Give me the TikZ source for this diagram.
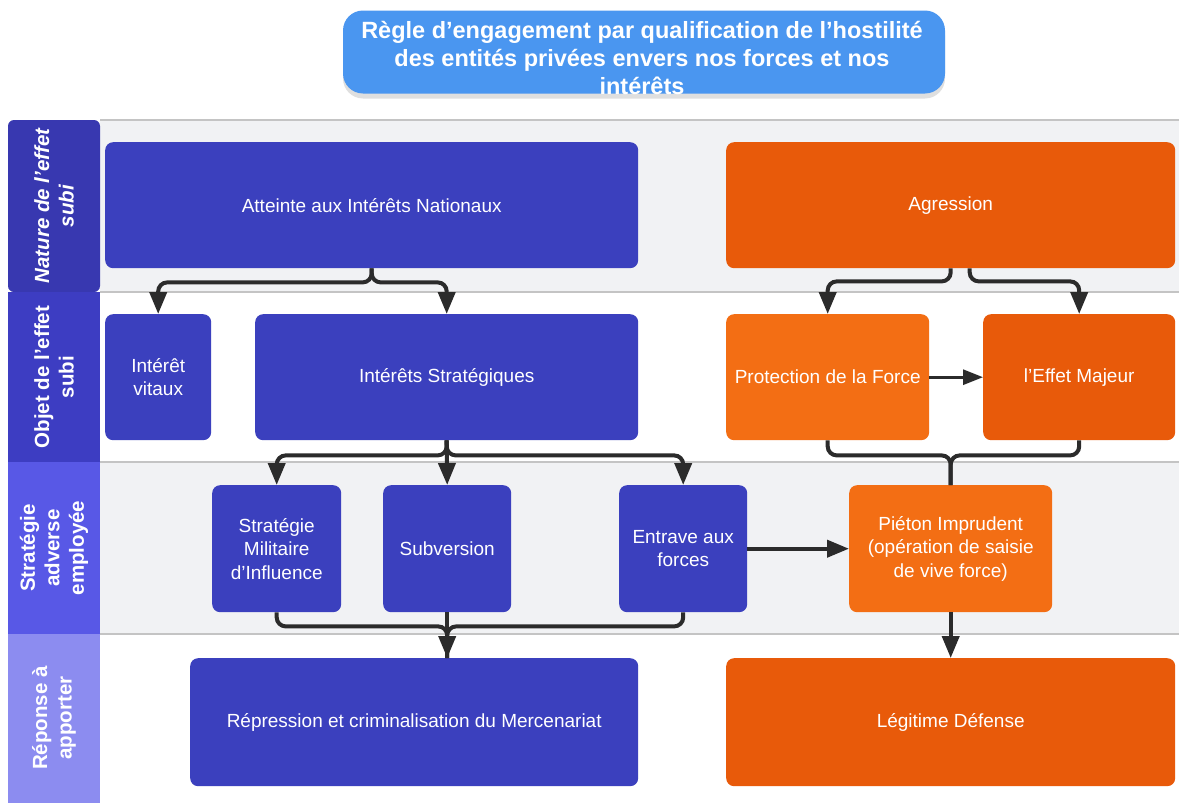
\documentclass[tikz,border=0pt]{standalone}
\usepackage{fontspec}
\setmainfont{Liberation Sans}
\usetikzlibrary{arrows.meta,shadows}
\definecolor{titlebl}{HTML}{4A96F0}
\definecolor{boxbl}{HTML}{3B40BE}
\definecolor{orD}{HTML}{E85A0A}
\definecolor{orL}{HTML}{F36E14}
\definecolor{hdA}{HTML}{3838B0}
\definecolor{hdB}{HTML}{3D3DC2}
\definecolor{hdC}{HTML}{5858E6}
\definecolor{hdD}{HTML}{8C8CF0}
\definecolor{lanegr}{HTML}{F1F2F4}
\definecolor{linegr}{HTML}{C4C4C4}
\definecolor{conn}{HTML}{2B2B2B}
\tikzset{
  boxbase/.style={rounded corners=8pt, anchor=north west, text=white, align=center, inner sep=3pt,
    font=\fontsize{19}{23.5}\selectfont},
  bb/.style={boxbase, fill=boxbl},
  obD/.style={boxbase, fill=orD},
  obL/.style={boxbase, fill=orL},
  hdtext/.style={rotate=90, text=white, align=center, font=\fontsize{20.5}{24.5}\selectfont\bfseries},
  conline/.style={draw=conn, line width=4pt},
  arr/.style={conline, -{Triangle[length=22pt,width=17pt]}},
}
\begin{document}
\begin{tikzpicture}[x=1pt,y=-1pt]
\useasboundingbox (0,0) rectangle (1179,803);
\fill[white] (0,0) rectangle (1179,803);
% lanes
\fill[lanegr] (100,120) rectangle (1179,292);
\fill[lanegr] (100,462) rectangle (1179,634);
\draw[linegr, line width=1.5pt] (100,120) -- (1179,120);
\draw[linegr, line width=1.5pt] (100,292) -- (1179,292);
\draw[linegr, line width=1.5pt] (100,462) -- (1179,462);
\draw[linegr, line width=1.5pt] (100,634) -- (1179,634);
% headers
\fill[hdA, rounded corners=6pt] (8,292) -- (8,120) -- (100,120) -- (100,292) -- cycle;
\fill[hdB] (8,292) rectangle (100,462);
\fill[hdC] (8,462) rectangle (100,634);
\fill[hdD] (8,634) rectangle (100,803);
\node[hdtext, font=\fontsize{20.5}{24.5}\selectfont\bfseries\itshape] (h1) at (54,206) {Nature de l'effet\\subi};
\node[hdtext] (h2) at (54,377) {Objet de l'effet\\subi};
\node[hdtext] (h3) at (54,548) {Stratégie\\adverse\\employée};
\node[hdtext] (h4) at (54,718) {Réponse à\\apporter};
% title
\node[fill=titlebl, rounded corners=20pt, minimum width=602pt, minimum height=83pt,
  drop shadow={shadow xshift=0pt, shadow yshift=-5pt, opacity=0.25}] (titlebox) at (644,52) {};
\node[text=white, align=center, font=\fontsize{23.5}{28}\selectfont\bfseries] (title) at (642,58)
  {Règle d'engagement par qualification de l'hostilité\\des entités privées envers nos forces et nos\\intérêts};
% boxes
\node[bb, minimum width=533pt, minimum height=126pt] (att) at (105,142) {Atteinte aux Intérêts Nationaux};
\node[obD, minimum width=449pt, minimum height=126pt] (agr) at (726,142) {Agression};
\node[bb, minimum width=106pt, minimum height=126pt] (vit) at (105,314) {Intérêt\\vitaux};
\node[bb, minimum width=383pt, minimum height=126pt] (strat) at (255,314) {Intérêts Stratégiques};
\node[obL, minimum width=203pt, minimum height=126pt] (prot) at (726,314) {Protection de la Force};
\node[obD, minimum width=192pt, minimum height=126pt] (maj) at (983,314) {l'Effet Majeur};
\node[bb, minimum width=129pt, minimum height=127pt] (smi) at (212,485) {Stratégie\\Militaire\\d'Influence};
\node[bb, minimum width=128pt, minimum height=127pt] (sub) at (383,485) {Subversion};
\node[bb, minimum width=128pt, minimum height=127pt] (ent) at (619,485) {Entrave aux\\forces};
\node[obL, minimum width=203pt, minimum height=127pt] (pie) at (849,485) {Piéton Imprudent\\(opération de saisie\\de vive force)};
\node[bb, minimum width=448pt, minimum height=128pt] (rep) at (190,658) {Répression et criminalisation du Mercenariat};
\node[obD, minimum width=449pt, minimum height=128pt] (leg) at (726,658) {Légitime Défense};
% connectors
\draw[arr] (att.south) {[rounded corners=9pt] -- ++(0,14) -| (vit.north)};
\draw[arr] (att.south) {[rounded corners=9pt] -- ++(0,14) -| (strat.north)};
\draw[arr] (agr.south) {[rounded corners=9pt] -- ++(0,13) -| (prot.north)};
\draw[arr] ([xshift=19pt]agr.south) {[rounded corners=9pt] -- ++(0,13) -| (maj.north)};
\draw[conline, line width=3pt, -{Triangle[length=20pt,width=15pt]}] (prot) -- (maj);
\draw[arr] (strat.south) {[rounded corners=9pt] -- ++(0,15) -| (smi.north)};
\draw[arr] (strat.south) {[rounded corners=9pt] -- ++(0,15) -| (ent.north)};
\draw[arr] (strat.south) -- (sub.north);
\draw[conline, rounded corners=9pt] (prot.south) -- ++(0,15) -| (pie.north);
\draw[conline, rounded corners=9pt] (maj.south) -- ++(0,15) -| (pie.north);
\draw[arr] (ent) -- (pie);
\draw[conline, rounded corners=9pt] (smi.south) -- ++(0,14) -| (sub.south |- rep.north);
\draw[conline, rounded corners=9pt] (ent.south) -- ++(0,14) -| (sub.south |- rep.north);
\draw[arr] (sub.south) -- (sub.south |- rep.north);
\draw[arr] (pie) -- (leg);
\end{tikzpicture}
\end{document}
